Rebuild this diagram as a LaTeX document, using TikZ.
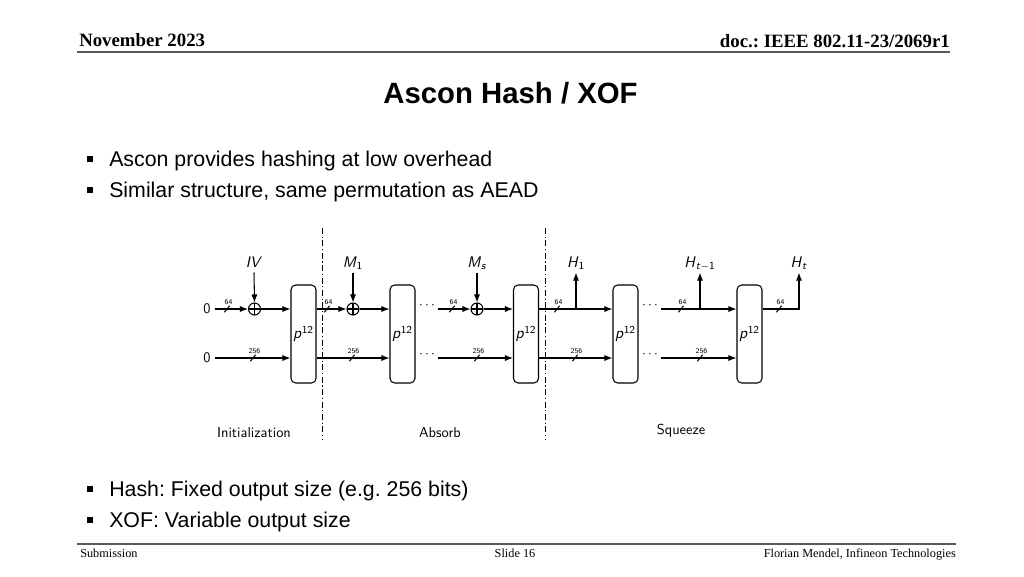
\documentclass[tikz,border=0pt]{standalone}
\usepackage{fontspec}
\newfontfamily\slidesans{Liberation Sans}
\newfontfamily\slideserif{Liberation Serif}
\usetikzlibrary{arrows.meta}
\newcommand\mv[1]{\textit{#1}}
\frenchspacing
\begin{document}
\begin{tikzpicture}[x=0.75pt,y=-0.75pt,
  wire/.style={line width=0.8pt},
  flow/.style={line width=0.8pt,-{Latex[length=6pt,width=4.6pt]}},
  perm/.style={draw,line width=0.8pt,rounded corners=3.5pt,minimum width=18.75pt,minimum height=73.5pt,inner sep=0pt,font=\sffamily\fontsize{12}{12}\selectfont},
  xorop/.style={circle,draw,line width=0.8pt,minimum size=9pt,inner sep=0pt,
    path picture={\draw[line width=0.8pt] (path picture bounding box.north)--(path picture bounding box.south) (path picture bounding box.west)--(path picture bounding box.east);}},
  var/.style={font=\sffamily\fontsize{11.5}{12}\selectfont,inner sep=1pt,anchor=base,text depth=3pt},
  zero/.style={font=\sffamily\fontsize{11}{12}\selectfont,inner sep=3pt},
  dots/.style={font=\fontsize{10}{10}\selectfont,inner sep=2pt},
  phase/.style={font=\sffamily\fontsize{10.8}{12}\selectfont},
  sep/.style={line width=0.6pt,dash pattern=on 4.5pt off 2pt on 0.8pt off 2pt},
  bitlab/.style={font=\sffamily\fontsize{5.5}{6}\selectfont,inner sep=0pt},
  bits/.pic={\draw[wire] (-2.6,3.2)--(2.6,-3.2); \node[bitlab] at (1.5,-7) {\tikzpictext};},
  hdr/.style={font=\slideserif\bfseries\fontsize{14.1}{16}\selectfont,inner sep=0pt},
  ftr/.style={font=\slideserif\fontsize{9.2}{11}\selectfont,inner sep=0pt},
  bul/.style={font=\slidesans\fontsize{16}{18}\selectfont,inner sep=0pt,anchor=base west},
  bulmark/.style={fill,minimum size=4.6pt,inner sep=0pt},
  rule/.style={line width=1.5pt,black!65}
]
\useasboundingbox (0,0) rectangle (1024,576);

% header and footer
\node[hdr,anchor=base west] (hl) at (79,46) {November 2023};
\node[hdr,anchor=base east] (hr) at (950,47) {doc.: IEEE 802.11-23/2069r1};
\coordinate (hla) at (77,51.5); \coordinate (hlb) at (950,51.5);
\draw[rule] (hla) -- (hlb);
\coordinate (fla) at (77,543.5); \coordinate (flb) at (956,543.5);
\draw[rule] (fla) -- (flb);
\node[ftr,anchor=base west] (f1) at (80,557) {Submission};
\node[ftr,anchor=base] (f2) at (515,557) {Slide 16};
\node[ftr,anchor=base east] (f3) at (956,557) {Florian Mendel, Infineon Technologies};

% title
\node[font=\slidesans\bfseries\fontsize{22}{26}\selectfont,anchor=base,inner sep=0pt] (title) at (510.5,103) {Ascon Hash / XOF};

% bullets
\node[bulmark] (m1) at (90,159) {};
\node[bul] (t1) at (109,166) {Ascon provides hashing at low overhead};
\node[bulmark] (m2) at (90,190) {};
\node[bul] (t2) at (109,197) {Similar structure, same permutation as AEAD};
\node[bulmark] (m3) at (90,489) {};
\node[bul] (t3) at (109,496) {Hash: Fixed output size (e.g. 256 bits)};
\node[bulmark] (m4) at (90,520) {};
\node[bul] (t4) at (109,527) {XOF: Variable output size};

% diagram: permutations
\node[perm] (b1) at (303.5,334) {\mv{p}\textsuperscript{12}};
\node[perm] (b2) at (402.5,334) {\mv{p}\textsuperscript{12}};
\node[perm] (b3) at (526,334) {\mv{p}\textsuperscript{12}};
\node[perm] (b4) at (625.5,334) {\mv{p}\textsuperscript{12}};
\node[perm] (b5) at (749.5,334) {\mv{p}\textsuperscript{12}};

% inputs
\node[zero] (z1) at (207,309) {0};
\node[zero] (z2) at (207,358) {0};
\node[xorop] (x1) at (254.5,309) {};
\node[xorop] (x2) at (353,309) {};
\node[xorop] (x3) at (477,309) {};
\node[var] (iv) at (254,267) {\mv{IV}};
\node[var] (m1l) at (353,267) {\mv{M}\textsubscript{1}};
\node[var] (msl) at (477,267) {\mv{M}\textsubscript{\mv{s}}};
\node[var] (h1l) at (576,267) {\mv{H}\textsubscript{1}};
\node[var] (html) at (700,267) {\mv{H}\textsubscript{\mv{t}$-$1}};
\node[var] (htl) at (799,267) {\mv{H}\textsubscript{\mv{t}}};

\node[dots] (d1) at (427,306) {$\cdots$};
\node[dots] (d1b) at (427,355) {$\cdots$};
\node[dots] (d2) at (650,306) {$\cdots$};
\node[dots] (d2b) at (650,355) {$\cdots$};

% top row
\draw[flow] (z1.east) -- (x1.west);
\draw[flow] (iv.south) -- (x1.north);
\draw[flow] (x1.east) -- (b1.west |- x1);
\draw[flow] (b1.east |- x1) -- (x2.west);
\draw[flow] (m1l.south) -- (x2.north);
\draw[flow] (x2.east) -- (b2.west |- x2);
\draw[flow] (d1.east |- x3) -- (x3.west);
\draw[flow] (msl.south) -- (x3.north);
\draw[flow] (x3.east) -- (b3.west |- x3);
\draw[flow] (b3.east |- x3) -- (b4.west |- x3);
\coordinate (h1b) at (576,309);
\draw[flow] (h1b) -- (h1l.south);
\draw[flow] (d2.east |- x3) -- (b5.west |- x3);
\coordinate (htmb) at (700,309);
\draw[flow] (htmb) -- (html.south);
\coordinate (corner) at (799,309);
\draw[flow] (b5.east |- x3) -- (corner) -- (htl.south);

% bottom row
\draw[flow] (z2.east) -- (b1.west |- z2);
\draw[flow] (b1.east |- z2) -- (b2.west |- z2);
\draw[flow] (d1b.east |- z2) -- (b3.west |- z2);
\draw[flow] (b3.east |- z2) -- (b4.west |- z2);
\draw[flow] (d2b.east |- z2) -- (b5.west |- z2);

% bit widths
\pic[pic text=64] at (227,309) {bits};
\pic[pic text=64] at (327,309) {bits};
\pic[pic text=64] at (452,309) {bits};
\pic[pic text=64] at (557,309) {bits};
\pic[pic text=64] at (681,309) {bits};
\pic[pic text=64] at (779,309) {bits};
\pic[pic text=256] at (253,358) {bits};
\pic[pic text=256] at (352,358) {bits};
\pic[pic text=256] at (477,358) {bits};
\pic[pic text=256] at (575,358) {bits};
\pic[pic text=256] at (700,358) {bits};

% phase separators
\coordinate (s1t) at (322,228); \coordinate (s1b) at (322,440);
\coordinate (s2t) at (545,228); \coordinate (s2b) at (545,440);
\draw[sep] (s1t) -- (s1b);
\draw[sep] (s2t) -- (s2b);
\node[phase] (ph1) at (254,433) {Initialization};
\node[phase] (ph2) at (440,433) {Absorb};
\node[phase] (ph3) at (681,431) {Squeeze};
\end{tikzpicture}
\end{document}
